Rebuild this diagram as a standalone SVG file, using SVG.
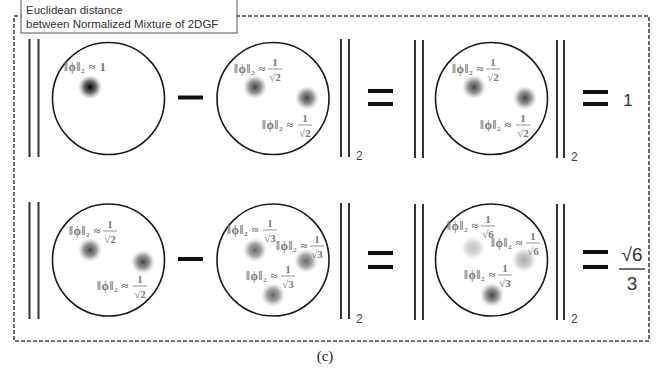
<svg xmlns="http://www.w3.org/2000/svg" width="672" height="369" viewBox="0 0 672 369">
<style>
.frame{fill:none;stroke:#444;stroke-width:1.6;stroke-dasharray:4 2}
.bar{stroke:#333;stroke-width:2}
.circ{fill:none;stroke:#1a1a1a;stroke-width:1.6}
.op{stroke:#111;stroke-width:4}
.nl{font-family:"Liberation Serif","DejaVu Serif",serif;font-size:12px;letter-spacing:0.6px;font-weight:bold;fill:#7a7a7a}
.fr{font-family:"Liberation Serif","DejaVu Serif",serif;font-size:11px;font-weight:bold;fill:#7a7a7a;text-anchor:middle}
.fl{stroke:#7a7a7a;stroke-width:0.8}
.sub{font-family:"Liberation Sans",Arial,sans-serif;font-size:12px;fill:#444}
.res{font-family:"Liberation Sans",Arial,sans-serif;fill:#333}
.cap{font-family:"Liberation Sans",Arial,sans-serif;font-size:11.5px;fill:#333}
</style>
<defs>
<radialGradient id="gDark"><stop offset="0" stop-color="#000"/><stop offset="0.5" stop-color="#444" stop-opacity="0.8"/><stop offset="1" stop-color="#888" stop-opacity="0"/></radialGradient>
<radialGradient id="gMed"><stop offset="0" stop-color="#444"/><stop offset="0.5" stop-color="#777" stop-opacity="0.8"/><stop offset="1" stop-color="#aaa" stop-opacity="0"/></radialGradient>
<radialGradient id="gMid"><stop offset="0" stop-color="#666"/><stop offset="0.5" stop-color="#888" stop-opacity="0.8"/><stop offset="1" stop-color="#bbb" stop-opacity="0"/></radialGradient>
<radialGradient id="gLight"><stop offset="0" stop-color="#aaa"/><stop offset="0.5" stop-color="#bbb" stop-opacity="0.8"/><stop offset="1" stop-color="#ddd" stop-opacity="0"/></radialGradient>
<radialGradient id="gVLight"><stop offset="0" stop-color="#c4c4c4"/><stop offset="0.5" stop-color="#ccc" stop-opacity="0.8"/><stop offset="1" stop-color="#e4e4e4" stop-opacity="0"/></radialGradient>
</defs>
<rect width="672" height="369" fill="#fff"/>

<g id="frame">
<rect class="frame" x="14" y="16" width="635" height="325"/>
</g>
<g id="title">
<rect x="21" y="-1" width="216" height="34" fill="#fff" stroke="#555" stroke-width="1"/>
<text class="cap" x="26" y="14">Euclidean distance</text>
<text class="cap" x="26" y="28">between Normalized Mixture of 2DGF</text>
</g>

<!-- Row 1 -->
<g id="r1-norm-left"><line class="bar" x1="29.5" y1="39" x2="29.5" y2="157"/><line class="bar" x1="38.5" y1="39" x2="38.5" y2="157"/></g>
<g id="r1-c1">
<circle class="circ" cx="108.5" cy="98.5" r="56"/>
<circle cx="90" cy="87" r="12" fill="url(#gDark)"/>
<text class="nl" x="64" y="71">‖ϕ‖₂ ≈ 1</text>
</g>
<g id="r1-minus"><line class="op" x1="178" y1="97.5" x2="203" y2="97.5"/></g>
<g id="r1-c2">
<circle class="circ" cx="273" cy="98.5" r="56"/>
<circle cx="255" cy="87" r="12" fill="url(#gMed)"/>
<circle cx="307" cy="98" r="12" fill="url(#gMed)"/>
<text class="nl" x="234" y="73">‖ϕ‖₂ ≈</text><text class="fr" x="275" y="66">1</text><line class="fl" x1="268" y1="69" x2="282" y2="69"/><text class="fr" x="275" y="81">√2</text>
<text class="nl" x="262" y="129">‖ϕ‖₂ ≈</text><text class="fr" x="305" y="122">1</text><line class="fl" x1="298" y1="125" x2="312" y2="125"/><text class="fr" x="305" y="137">√2</text>
</g>
<g id="r1-norm-right"><line class="bar" x1="341" y1="39" x2="341" y2="157"/><line class="bar" x1="349" y1="39" x2="349" y2="157"/><text class="sub" x="356" y="160">2</text></g>
<g id="r1-eq1"><line class="op" x1="368" y1="91" x2="393" y2="91"/><line class="op" x1="368" y1="104" x2="393" y2="104"/></g>
<g id="r1-norm2-left"><line class="bar" x1="415" y1="40" x2="415" y2="158"/><line class="bar" x1="423" y1="40" x2="423" y2="158"/></g>
<g id="r1-c3">
<circle class="circ" cx="491.5" cy="98.5" r="56"/>
<circle cx="474" cy="87" r="12" fill="url(#gMed)"/>
<circle cx="525" cy="98" r="12" fill="url(#gMed)"/>
<text class="nl" x="452" y="73">‖ϕ‖₂ ≈</text><text class="fr" x="493" y="66">1</text><line class="fl" x1="486" y1="69" x2="500" y2="69"/><text class="fr" x="493" y="81">√2</text>
<text class="nl" x="480" y="129">‖ϕ‖₂ ≈</text><text class="fr" x="523" y="122">1</text><line class="fl" x1="516" y1="125" x2="530" y2="125"/><text class="fr" x="523" y="137">√2</text>
</g>
<g id="r1-norm2-right"><line class="bar" x1="557" y1="40" x2="557" y2="158"/><line class="bar" x1="564" y1="40" x2="564" y2="158"/><text class="sub" x="571" y="161">2</text></g>
<g id="r1-eq2"><line class="op" x1="583" y1="92" x2="608" y2="92"/><line class="op" x1="583" y1="104" x2="608" y2="104"/></g>
<g id="r1-result"><text class="res" x="628" y="106" font-size="17" text-anchor="middle">1</text></g>

<!-- Row 2 -->
<g id="r2-norm-left"><line class="bar" x1="29.5" y1="202" x2="29.5" y2="319"/><line class="bar" x1="38.5" y1="202" x2="38.5" y2="319"/></g>
<g id="r2-c1">
<circle class="circ" cx="108.5" cy="260" r="56"/>
<circle cx="90" cy="250" r="12" fill="url(#gMed)"/>
<circle cx="143" cy="262" r="12" fill="url(#gMed)"/>
<text class="nl" x="69" y="235">‖ϕ‖₂ ≈</text><text class="fr" x="110" y="228">1</text><line class="fl" x1="103" y1="231" x2="117" y2="231"/><text class="fr" x="110" y="243">√2</text>
<text class="nl" x="97" y="290">‖ϕ‖₂ ≈</text><text class="fr" x="140" y="283">1</text><line class="fl" x1="133" y1="286" x2="147" y2="286"/><text class="fr" x="140" y="298">√2</text>
</g>
<g id="r2-minus"><line class="op" x1="178" y1="259" x2="203" y2="259"/></g>
<g id="r2-c2">
<circle class="circ" cx="273" cy="260" r="56"/>
<circle cx="255" cy="250" r="12" fill="url(#gMid)"/>
<circle cx="306" cy="261" r="12" fill="url(#gMid)"/>
<circle cx="273" cy="295" r="12" fill="url(#gMid)"/>
<text class="nl" x="227" y="234">‖ϕ‖₂ ≈</text><text class="fr" x="270" y="227">1</text><line class="fl" x1="263" y1="230" x2="277" y2="230"/><text class="fr" x="270" y="242">√3</text>
<text class="nl" x="276" y="250">‖ϕ‖₂ ≈</text><text class="fr" x="317" y="243">1</text><line class="fl" x1="310" y1="246" x2="324" y2="246"/><text class="fr" x="317" y="258">√3</text>
<text class="nl" x="246" y="280">‖ϕ‖₂ ≈</text><text class="fr" x="288" y="273">1</text><line class="fl" x1="281" y1="276" x2="295" y2="276"/><text class="fr" x="288" y="288">√3</text>
</g>
<g id="r2-norm-right"><line class="bar" x1="341" y1="203" x2="341" y2="319"/><line class="bar" x1="349" y1="203" x2="349" y2="319"/><text class="sub" x="356" y="323">2</text></g>
<g id="r2-eq1"><line class="op" x1="368" y1="253" x2="393" y2="253"/><line class="op" x1="368" y1="267" x2="393" y2="267"/></g>
<g id="r2-norm2-left"><line class="bar" x1="415" y1="204" x2="415" y2="320"/><line class="bar" x1="423" y1="204" x2="423" y2="320"/></g>
<g id="r2-c3">
<circle class="circ" cx="491.5" cy="260" r="56"/>
<circle cx="473" cy="248" r="12.5" fill="url(#gVLight)"/>
<circle cx="524" cy="260" r="12.5" fill="url(#gLight)"/>
<circle cx="492" cy="295" r="12" fill="url(#gMed)"/>
<text class="nl" x="447" y="230">‖ϕ‖₂ ≈</text><text class="fr" x="488" y="223">1</text><line class="fl" x1="481" y1="226" x2="495" y2="226"/><text class="fr" x="488" y="238">√6</text>
<text class="nl" x="491" y="247">‖ϕ‖₂ ≈</text><text class="fr" x="533" y="240">1</text><line class="fl" x1="526" y1="243" x2="540" y2="243"/><text class="fr" x="533" y="255">√6</text>
<text class="nl" x="464" y="279">‖ϕ‖₂ ≈</text><text class="fr" x="505" y="272">1</text><line class="fl" x1="498" y1="275" x2="512" y2="275"/><text class="fr" x="505" y="287">√3</text>
</g>
<g id="r2-norm2-right"><line class="bar" x1="557" y1="204" x2="557" y2="320"/><line class="bar" x1="564" y1="204" x2="564" y2="320"/><text class="sub" x="571" y="323">2</text></g>
<g id="r2-eq2"><line class="op" x1="583" y1="252" x2="608" y2="252"/><line class="op" x1="583" y1="267" x2="608" y2="267"/></g>
<g id="r2-result">
<text class="res" x="632" y="261" font-size="19" text-anchor="middle">√6</text>
<line x1="619" y1="269" x2="645" y2="269" stroke="#333" stroke-width="1.4"/>
<text class="res" x="632" y="290" font-size="19" text-anchor="middle">3</text>
</g>

<g id="caption"><text x="325" y="361" font-family="Liberation Serif,serif" font-size="15" fill="#222" text-anchor="middle">(c)</text></g>
</svg>
